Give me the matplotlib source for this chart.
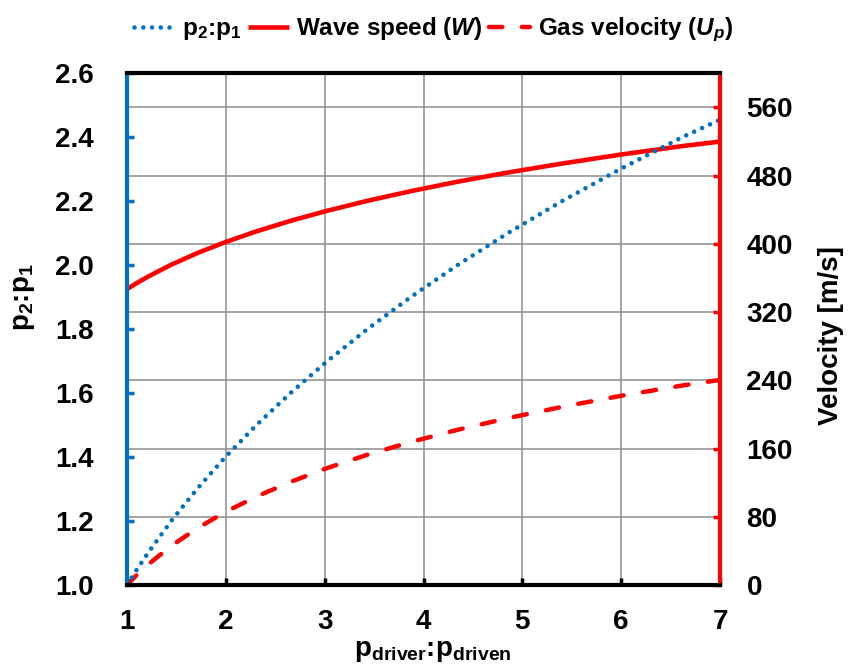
import matplotlib
matplotlib.use("Agg")
import matplotlib.pyplot as plt

plt.rcParams['font.family'] = ['Liberation Sans', 'DejaVu Sans']
plt.rcParams['font.weight'] = 'bold'
plt.rcParams['mathtext.fontset'] = 'custom'
plt.rcParams['mathtext.rm'] = 'Liberation Sans:bold'
plt.rcParams['mathtext.it'] = 'Liberation Sans:bold:italic'
plt.rcParams['mathtext.bf'] = 'Liberation Sans:bold'
plt.rcParams['mathtext.default'] = 'rm'

# data
pressure_ratio = [1.0, 1.103, 1.212, 1.447, 1.708, 1.995, 2.309, 2.653, 3.026,
                  3.431, 3.869, 4.342, 4.851, 5.399, 5.986, 6.615, 7.0]
p2_p1 = [1.0, 1.05, 1.1, 1.2, 1.3, 1.4, 1.5, 1.6, 1.7,
         1.8, 1.9, 2.0, 2.1, 2.2, 2.3, 2.4, 2.455]
wave_speed = [347.0, 354.4, 361.6, 375.6, 389.1, 402.1, 414.7, 427.0, 438.9,
              450.5, 461.8, 472.9, 483.7, 494.2, 504.6, 514.7, 520.0]
gas_velocity = [0.0, 12.2, 23.8, 45.8, 66.3, 85.6, 103.7, 120.8, 137.2,
                152.7, 167.6, 181.9, 195.6, 208.8, 221.6, 233.9, 240.5]

x_ticks = [1, 2, 3, 4, 5, 6, 7]
left_ticks = [1.0, 1.2, 1.4, 1.6, 1.8, 2.0, 2.2, 2.4, 2.6]
right_ticks = [0, 80, 160, 240, 320, 400, 480, 560]

BLUE = '#0070C0'
RED = '#FF0000'

fig = plt.figure(figsize=(8.53, 6.69), dpi=100)
ax2 = fig.add_axes([0.1489, 0.1256, 0.6952, 0.7647])
ax1 = ax2.twinx()
ax1.xaxis.set_visible(True)
ax1.yaxis.set_label_position('left')
ax1.yaxis.tick_left()
ax2.yaxis.set_label_position('right')
ax2.yaxis.tick_right()
ax1.set_zorder(ax2.get_zorder() + 1)
ax1.patch.set_visible(False)

# grid on velocity axis
ax2.set_axisbelow(True)
ax2.grid(True, color='#8C8C8C', linewidth=1.1)

l2, = ax2.plot(pressure_ratio, wave_speed, color=RED, lw=3.3,
               solid_capstyle='butt', label='Wave speed ($\\mathit{W}$)')
l3, = ax2.plot(pressure_ratio, gas_velocity, color=RED, lw=3.2,
               linestyle=(0, (3.0, 4.4)), dash_capstyle='round',
               label='Gas velocity ($\\mathit{U_p}$)')
l1, = ax1.plot(pressure_ratio, p2_p1, color=BLUE, lw=3.3,
               linestyle=(0, (0.01, 1.9)), dash_capstyle='round',
               label='p$_2$:p$_1$', clip_on=False)

ax1.set_xlim(1, 7)
ax2.set_xlim(1, 7)
ax1.set_ylim(1.0, 2.6)
ax2.set_ylim(0, 600)
ax1.set_xticks(x_ticks)
ax1.set_xticklabels([str(v) for v in x_ticks])
ax1.set_yticks(left_ticks)
ax1.set_yticklabels([f'{v:.1f}' for v in left_ticks])
ax2.set_yticks(right_ticks)
ax2.set_yticklabels([str(v) for v in right_ticks])

ax1.tick_params(axis='y', direction='in', color=BLUE, length=5, width=2.5,
                labelsize=20, pad=24, labelcolor='black')
ax1.tick_params(axis='x', direction='in', color='black', length=5, width=2.5,
                labelsize=20, pad=17, bottom=True, top=False,
                labelbottom=True, labeltop=False)
ax2.tick_params(axis='y', direction='in', color=RED, length=5, width=2.5,
                labelsize=20, pad=19, labelcolor='black')
ax2.tick_params(axis='x', length=0, labelbottom=False)

for ax in (ax1, ax2):
    for s in ax.spines.values():
        s.set_visible(False)
for side, col in (('left', BLUE), ('right', RED), ('top', 'black'), ('bottom', 'black')):
    ax1.spines[side].set_visible(True)
    ax1.spines[side].set_color(col)
    ax1.spines[side].set_linewidth(3)

fig.text(24 / 853, 1 - 297 / 669, 'p$_2$:p$_1$', rotation=90, ha='center',
         va='center', fontsize=20, fontweight='bold')
fig.text(831 / 853, 1 - 336 / 669, 'Velocity [m/s]', rotation=90, ha='center',
         va='center', fontsize=20, fontweight='bold')
fig.text(433 / 853, 1 - 651 / 669, 'p$_{driver}$:p$_{driven}$', ha='center',
         va='center', fontsize=20, fontweight='bold')

fig.legend(handles=[l1, l2, l3], loc='upper center', ncol=3,
           bbox_to_anchor=(0.508, 1.01), frameon=False, fontsize=17.5,
           handlelength=1.7, handletextpad=0.3, columnspacing=0.25)

fig.savefig('out.png', dpi=100)
